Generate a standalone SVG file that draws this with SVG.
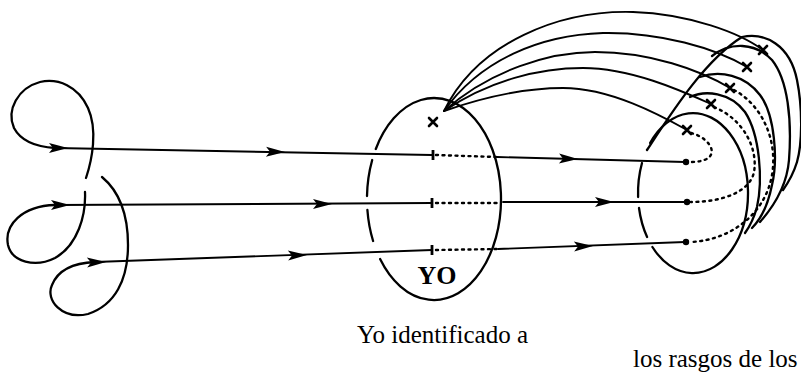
<svg xmlns="http://www.w3.org/2000/svg" xmlns:xlink="http://www.w3.org/1999/xlink" width="801" height="372" viewBox="0 0 801 372">
<defs>
<style>
.ln{fill:none;stroke:#000;stroke-width:1.9;stroke-linecap:round;stroke-linejoin:round}
.el{fill:none;stroke:#000;stroke-width:2.3;stroke-linecap:round}
.dt{fill:none;stroke:#000;stroke-width:2.4;stroke-dasharray:2 4.5;stroke-linecap:round}
.xm{stroke:#000;stroke-width:2.6;stroke-linecap:round;fill:none}
.tick{stroke:#000;stroke-width:2.8}
.lbl{font-family:"Liberation Serif","Times New Roman",serif;fill:#000}
</style>
<path id="ah" d="M2,0 L-17,-5 L-13,0 L-17,5 Z" fill="#000"/>
<path id="xx" d="M-4,-4 L4,4 M4,-4 L-4,4"/>
</defs>
<rect width="801" height="372" fill="#fff"/>

<g id="loops">
<path class="el" d="M86,178 C92,160 98,130 88,108 C78,86 58,78 40,82 C18,88 6,110 14,128 C22,143 38,147 55,148"/>
<path class="el" d="M85,192 C86,215 78,245 55,258 C35,268 12,262 8,245 C4,225 22,206 55,205"/>
<path class="el" d="M102,177 C120,192 128,215 128,245 C128,280 115,305 88,314 C62,320 45,300 52,285 C58,270 72,263 95,262"/>
</g>

<g id="yo">
<path class="el" d="M375.8,149 A67,101 0 1 1 380.1,259"/>
<path class="el" d="M372.2,160 A67,101 0 0 0 367,196"/>
<path class="el" d="M367.4,210 A67,101 0 0 0 373.1,241"/>
<line class="tick" x1="433" y1="150" x2="433" y2="160"/>
<line class="tick" x1="432" y1="198" x2="432" y2="208"/>
<line class="tick" x1="432" y1="245" x2="432" y2="255"/>
<use href="#xx" class="xm" transform="translate(433,122)"/>
<text class="lbl" x="437" y="284" font-size="26" font-weight="bold" text-anchor="middle">YO</text>
</g>

<g id="rasgos">
<path class="el" d="M647,150 C672,112 705,60 742,37 C765,32 790,45 797,80 C803,110 802,145 797,162 C793,175 788,183 783,190"/>
<path class="el" d="M712,56 C730,42 755,42 772,60 C788,80 792,120 789,160 C787,185 775,205 760,222"/>
<path class="el" d="M700,77 C720,70 745,75 760,95 C775,115 778,160 772,185 C768,205 760,220 752,228"/>
<path class="el" d="M690,97 C705,90 730,92 745,112 C760,135 763,180 757,207 C754,218 750,226 745,233"/>
<path class="el" d="M650.1,143 A55,80 0 1 1 652.4,247"/>
<path class="el" d="M642,163 A55,80 0 0 0 638.1,197"/>
<path class="el" d="M639,208 A55,80 0 0 0 647.1,237"/>
<use href="#xx" class="xm" transform="translate(763,50)"/>
<use href="#xx" class="xm" transform="translate(747,67)"/>
<use href="#xx" class="xm" transform="translate(730,88)"/>
<use href="#xx" class="xm" transform="translate(711,104)"/>
<use href="#xx" class="xm" transform="translate(687,130)"/>
<circle cx="686" cy="162" r="3.2"/>
<circle cx="687" cy="202" r="3.2"/>
<circle cx="686" cy="242" r="3.2"/>
</g>

<g id="connectors">
<line class="ln" x1="55" y1="148" x2="432" y2="155"/>
<line class="ln" x1="55" y1="205" x2="432" y2="203"/>
<line class="ln" x1="95" y1="262" x2="432" y2="250"/>
<path class="dt" d="M436,155 L496,157"/>
<path class="dt" d="M436,203 L501,203"/>
<path class="dt" d="M436,250 L497,249"/>
<line class="ln" x1="497" y1="157" x2="685" y2="162"/>
<line class="ln" x1="503" y1="202" x2="685" y2="202"/>
<line class="ln" x1="498" y1="249" x2="685" y2="242"/>
<use href="#ah" transform="translate(66,148)"/>
<use href="#ah" transform="translate(68,205)"/>
<use href="#ah" transform="translate(104,262) rotate(-2)"/>
<use href="#ah" transform="translate(283,152) rotate(1)"/>
<use href="#ah" transform="translate(330,204)"/>
<use href="#ah" transform="translate(305,255) rotate(-2)"/>
<use href="#ah" transform="translate(576,159) rotate(1.5)"/>
<use href="#ah" transform="translate(612,202)"/>
<use href="#ah" transform="translate(591,246) rotate(-2)"/>
<path class="ln" d="M444,111 C478,42 560,10 633,12 C690,14 740,33 763,50"/>
<path class="ln" d="M444,111 C480,60 540,35 603,33 C660,32 715,48 747,67"/>
<path class="ln" d="M444,111 C490,70 550,52 595,52 C650,52 700,70 730,88"/>
<path class="ln" d="M444,111 C490,80 540,68 583,68 C630,68 680,90 711,104"/>
<path class="ln" d="M444,111 C490,95 530,88 563,88 C610,88 660,115 687,130"/>
<path class="dt" d="M691,133 C712,138 725,162 690,162"/>
<path class="dt" d="M714,107 C745,120 758,150 754,172 C750,192 722,202 691,202"/>
<path class="dt" d="M734,90 C762,105 778,140 772,175 C765,215 730,240 691,242"/>
</g>

<text class="lbl" x="357" y="343" font-size="25">Yo identificado a</text>
<text class="lbl" x="633" y="367" font-size="25">los rasgos de los</text>
</svg>
